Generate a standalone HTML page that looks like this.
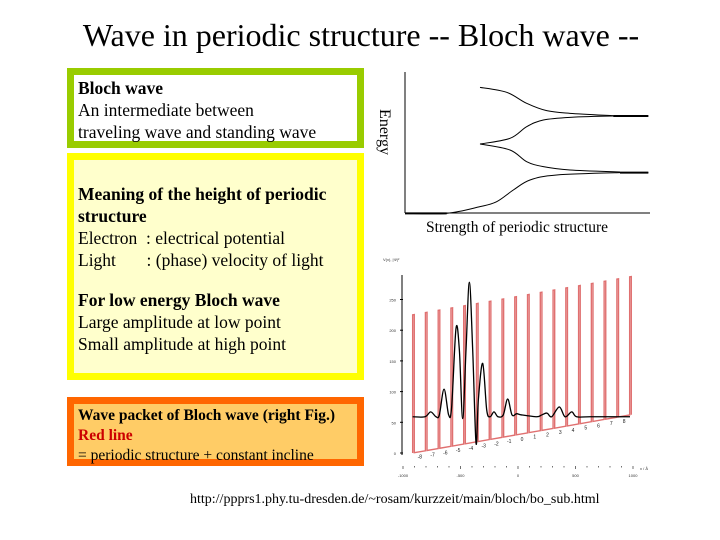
<!DOCTYPE html>
<html><head><meta charset="utf-8"><style>
body{margin:0;background:#fff;}
#root{position:relative;width:720px;height:540px;overflow:hidden;font-family:"Liberation Serif",serif;color:#000;}
.abs{position:absolute;}
.box{position:absolute;box-sizing:border-box;}
.t{position:absolute;left:11px;white-space:nowrap;font-size:17.5px;line-height:22px;}
</style></head><body>
<div id="root">
<div class="abs" style="left:0;width:722px;top:15px;text-align:center;font-size:32px;line-height:40px;font-family:'Liberation Serif',serif;">Wave in periodic structure -- Bloch wave --</div>

<div class="box" style="left:67px;top:68px;width:297px;height:80px;border:7px solid #99cc00;background:#fff;">
<div class="t" style="left:4px;top:2px;"><b>Bloch wave</b><br>An intermediate between<br>traveling wave and standing wave</div>
</div>

<div class="box" style="left:67px;top:153px;width:297px;height:227px;border:7px solid #ffff00;background:#ffffcc;">
<div class="t" style="left:4px;top:23px;"><b>Meaning of the height of periodic<br>structure</b><br>Electron &nbsp;: electrical potential<br>Light &nbsp;&nbsp;&nbsp;&nbsp;&nbsp;&nbsp;: (phase) velocity of light</div>
<div class="t" style="left:4px;top:129px;"><b>For low energy Bloch wave</b><br>Large amplitude at low point<br>Small amplitude at high point</div>
</div>

<div class="box" style="left:67px;top:397px;width:297px;height:69px;border:7px solid #ff6600;background:#ffcc66;">
<div class="t" style="left:4px;top:2px;font-size:15.5px;line-height:20px;"><b>Wave packet of Bloch wave (right Fig.)</b><br><b style="color:#cc0000">Red line</b><br>= periodic structure + constant incline</div>
</div>

<div class="abs" style="left:190px;top:492px;font-size:14px;line-height:16px;white-space:nowrap;">http://ppprs1.phy.tu-dresden.de/~rosam/kurzzeit/main/bloch/bo_sub.html</div>

<svg class="abs" style="left:0;top:0" width="720" height="540">
 <g>
  <line x1="405" y1="72" x2="405" y2="213" stroke="#000" stroke-width="1"/>
  <line x1="405" y1="213" x2="650" y2="213" stroke="#000" stroke-width="1"/>
  <text x="0" y="0" transform="translate(380,132) rotate(90)" text-anchor="middle" font-size="16" font-family="Liberation Serif">Energy</text>
  <text x="517" y="232" text-anchor="middle" font-size="15.5" font-family="Liberation Serif">Strength of periodic structure</text>
  <g id="bands" fill="none" stroke="#000" stroke-width="1"></g>
 </g>
 <g id="wavechart"></g>
</svg>
</div>
<script>
// Energy band curves (zoomed reference units)
const band1 = [[105,460],[230,460],[330,440],[380,425],[430,390],[480,360],[560,345],[750,338],[835,338]];
const band2 = [[330,252],[420,270],[470,305],[520,320],[600,330],[750,336]];
const band3 = [[330,252],[420,235],[470,200],[520,180],[600,172],[730,168],[835,168]];
const band4 = [[330,82],[410,97],[470,130],[530,152],[600,160],[730,167]];
// Wave chart data
const xTicks = [-1000,-500,0,500,1000];
const yTicks = [0,50,100,150,200,250];
const wellLabels = [-8,-7,-6,-5,-4,-3,-2,-1,0,1,2,3,4,5,6,7,8];
const potStart = -916, period = 111, barrierWidth = 14, barrierHeight = 225, incline = 0.0328;
const waveX = [-916,-809,-759,-713,-684,-643,-603,-577,-539,-510,-481,-452,-423,-394,-365,-345,-307,-272,-243,-209,-174,-128,-90,-52,-11,32,163,206,252,293,359,409,467,510,626,974];
const waveY = [59,59,67,59,62,104,62,75,203,168,56,168,278,168,16,86,146,70,59,67,59,62,88,62,64,62,59,62,65,59,75,59,67,59,59,59];

const NS='http://www.w3.org/2000/svg';
function mk(tag,attrs,parent){const e=document.createElementNS(NS,tag);for(const k in attrs)e.setAttribute(k,attrs[k]);parent.appendChild(e);return e;}
function smooth(pts){let d='M'+pts[0][0]+','+pts[0][1];for(let i=0;i<pts.length-1;i++){const p0=pts[Math.max(0,i-1)],p1=pts[i],p2=pts[i+1],p3=pts[Math.min(pts.length-1,i+2)];
 const c1=[p1[0]+(p2[0]-p0[0])/6,p1[1]+(p2[1]-p0[1])/6],c2=[p2[0]-(p3[0]-p1[0])/6,p2[1]-(p3[1]-p1[1])/6];
 d+=' C'+c1[0]+','+c1[1]+' '+c2[0]+','+c2[1]+' '+p2[0]+','+p2[1];}return d;}
const bandsG=document.getElementById('bands');
[band1,band2,band3,band4].forEach((b,i)=>{
 const pts=b.map(p=>[370+p[0]/3,60+p[1]/3]);
 const p=mk('path',{d:smooth(pts)},bandsG);
 
 
});
[[105,230,460],[750,835,338],[730,835,168]].forEach((s,i)=>{
 const l=mk('line',{x1:370+s[0]/3,x2:370+s[1]/3,y1:60+s[2]/3,y2:60+s[2]/3,stroke:'#000','stroke-width':2},bandsG);
 
 
});

const g=document.getElementById('wavechart');
const X=v=>403+(v+1000)/2000*230;
const Y=v=>453-v*0.614;
const ax=mk('line',{x1:402,y1:275,x2:402,y2:455,stroke:'#000','stroke-width':1},g);


yTicks.forEach(t=>{
 const l=mk('line',{x1:400,x2:403,y1:Y(t),y2:Y(t),stroke:'#000'},g);
 
 
 const tx=mk('text',{x:396,y:Y(t)+2,'text-anchor':'end','font-size':4,'font-family':'Liberation Sans',fill:'#333'},g);
 
 
 tx.textContent=t;
});
const yt=mk('text',{x:383,y:261,'font-size':4,'font-family':'Liberation Sans',fill:'#333'},g);


yt.textContent='V(x), |Ψ|²';
for(let v=-1000;v<=1000;v+=100){
 const l=mk('line',{x1:X(v),x2:X(v),y1:466,y2:v%500===0?469:467.5,stroke:'#333','stroke-width':0.7},g);
 
 
}
xTicks.forEach(t=>{
 const tx=mk('text',{x:X(t),y:477,'text-anchor':'middle','font-size':4,'font-family':'Liberation Sans',fill:'#333'},g);
 
 
 tx.textContent=t;
});
const xt=mk('text',{x:640,y:470,'font-size':4,'font-family':'Liberation Sans',fill:'#333'},g);


xt.textContent='x / Å';
// potential
let d='';
const nB=wellLabels.length+1;
for(let i=0;i<nB;i++){
 const x0=potStart+i*period, x1=x0+barrierWidth;
 const base0=incline*(x0-potStart), base1=incline*(x1-potStart);
 d+=(i===0?'M':'L')+X(x0)+','+Y(base0)+' L'+X(x0)+','+Y(base0+barrierHeight)+' L'+X(x1)+','+Y(base1+barrierHeight)+' L'+X(x1)+','+Y(base1);
 if(i<nB-1){const x2=potStart+(i+1)*period;d+=' L'+X(x2)+','+Y(incline*(x2-potStart));}
}
const pot=mk('path',{d:d,fill:'none',stroke:'#e07070','stroke-width':1.4},g);


wellLabels.forEach((w,i)=>{
 const xc=potStart+i*period+barrierWidth+(period-barrierWidth)/2;
 const tx=mk('text',{x:X(xc),y:Y(incline*(xc-potStart))+7,'text-anchor':'middle','font-size':5,'font-family':'Liberation Sans',fill:'#222'},g);
 
 
 tx.textContent=w;
});
const wpts=waveX.map((x,i)=>[X(x),Y(waveY[i])]);
const wave=mk('path',{d:smooth(wpts),fill:'none',stroke:'#000','stroke-width':1.3},g);


</script>
</body></html>
